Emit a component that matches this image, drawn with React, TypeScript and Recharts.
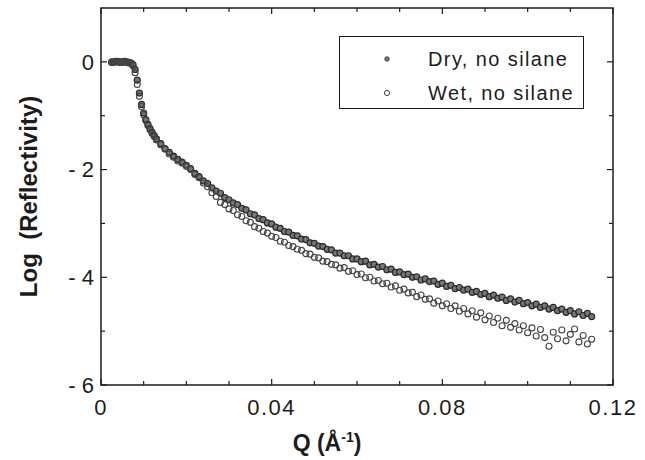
import React from 'react';
import { ScatterChart, Scatter, XAxis, YAxis, ReferenceArea, Legend, Label } from 'recharts';

const qValues = [
  0.0025, 0.003, 0.0035, 0.004, 0.0045, 0.005, 0.0055, 0.006, 0.0065, 0.007, 0.0075,
  0.008, 0.0085, 0.009, 0.0095, 0.01, 0.0105, 0.011, 0.0115, 0.012, 0.0125, 0.013,
  0.014, 0.015, 0.016, 0.017, 0.018, 0.019, 0.02, 0.021, 0.022, 0.023, 0.024, 0.025,
  0.026, 0.027, 0.028, 0.029, 0.03, 0.031, 0.032, 0.033, 0.034, 0.035, 0.036, 0.037,
  0.038, 0.039, 0.04, 0.041, 0.042, 0.043, 0.044, 0.045, 0.046, 0.047, 0.048, 0.049,
  0.05, 0.051, 0.052, 0.053, 0.054, 0.055, 0.056, 0.057, 0.058, 0.059, 0.06, 0.061,
  0.062, 0.063, 0.064, 0.065, 0.066, 0.067, 0.068, 0.069, 0.07, 0.071, 0.072, 0.073,
  0.074, 0.075, 0.076, 0.077, 0.078, 0.079, 0.08, 0.081, 0.082, 0.083, 0.084, 0.085,
  0.086, 0.087, 0.088, 0.089, 0.09, 0.091, 0.092, 0.093, 0.094, 0.095, 0.096, 0.097,
  0.098, 0.099, 0.1, 0.101, 0.102, 0.103, 0.104, 0.105, 0.106, 0.107, 0.108, 0.109,
  0.11, 0.111, 0.112, 0.113, 0.114, 0.115,
];

const dryValues = [
  -0.01, 0.0, 0.01, 0.0, -0.01, 0.0, 0.01, 0.0, -0.01, -0.02, -0.05,
  -0.14, -0.34, -0.58, -0.79, -0.95, -1.07, -1.16, -1.24, -1.31, -1.37, -1.43,
  -1.52, -1.61, -1.68, -1.75, -1.81, -1.86, -1.92, -1.98, -2.07, -2.13, -2.21, -2.26,
  -2.34, -2.4, -2.44, -2.52, -2.56, -2.62, -2.65, -2.72, -2.75, -2.82, -2.84, -2.91,
  -2.93, -2.99, -3.01, -3.07, -3.09, -3.15, -3.16, -3.22, -3.23, -3.29, -3.3, -3.36,
  -3.37, -3.42, -3.43, -3.48, -3.49, -3.55, -3.55, -3.6, -3.6, -3.66, -3.66, -3.71,
  -3.7, -3.77, -3.76, -3.81, -3.8, -3.86, -3.85, -3.91, -3.9, -3.95, -3.94, -4.0,
  -3.99, -4.05, -4.03, -4.08, -4.07, -4.13, -4.11, -4.17, -4.15, -4.21, -4.19, -4.24,
  -4.22, -4.28, -4.26, -4.32, -4.3, -4.36, -4.33, -4.39, -4.37, -4.43, -4.4, -4.46,
  -4.43, -4.49, -4.47, -4.53, -4.5, -4.56, -4.53, -4.59, -4.56, -4.62, -4.59, -4.65,
  -4.62, -4.68, -4.64, -4.71, -4.67, -4.73,
];

const wetValues = [
  0.0, -0.01, 0.0, 0.01, 0.0, -0.01, 0.0, -0.01, -0.02, -0.03, -0.07,
  -0.2, -0.42, -0.64, -0.83, -0.98, -1.09, -1.18, -1.26, -1.33, -1.39, -1.45,
  -1.54, -1.62, -1.71, -1.77, -1.84, -1.88, -1.94, -2.0, -2.09, -2.15, -2.25, -2.32,
  -2.43, -2.5, -2.61, -2.65, -2.73, -2.76, -2.84, -2.87, -2.95, -2.98, -3.06, -3.09,
  -3.15, -3.18, -3.24, -3.26, -3.33, -3.35, -3.41, -3.43, -3.48, -3.5, -3.56, -3.57,
  -3.63, -3.64, -3.7, -3.71, -3.76, -3.77, -3.83, -3.82, -3.89, -3.88, -3.95, -3.94,
  -4.01, -4.0, -4.07, -4.06, -4.12, -4.11, -4.18, -4.16, -4.24, -4.22, -4.29, -4.28,
  -4.36, -4.33, -4.41, -4.4, -4.48, -4.44, -4.53, -4.49, -4.58, -4.53, -4.63, -4.58,
  -4.68, -4.62, -4.74, -4.66, -4.79, -4.72, -4.84, -4.76, -4.9, -4.8, -4.93, -4.86,
  -4.98, -4.9, -5.03, -4.94, -5.09, -4.97, -5.12, -5.28, -5.02, -5.14, -4.98, -5.18,
  -5.06, -4.96, -5.2, -5.08, -5.24, -5.15,
];

const xTicks = [0, 0.01, 0.02, 0.03, 0.04, 0.05, 0.06, 0.07, 0.08, 0.09, 0.1, 0.11, 0.12];
const xLabelTicks = [0, 0.04, 0.08, 0.12];
const xTickLabels = ['0', '0.04', '0.08', '0.12'];
const yTicks = [-6, -5, -4, -3, -2, -1, 0];
const yLabelTicks = [-6, -4, -2, 0];
const yTickLabels = ['- 6', '- 4', '- 2', '0'];

const seriesNames = ['Dry, no silane', 'Wet, no silane'];

const dryData = qValues.map((q, i) => ({ q, r: dryValues[i] }));
const wetData = qValues.map((q, i) => ({ q, r: wetValues[i] }));

const W = 645;
const H = 460;
const M = { top: 8, right: 32, bottom: 0, left: 38 };
const Y_AXIS_W = 63;
const X_AXIS_H = 75;
const PLOT_TOP = M.top;
const PLOT_BOTTOM = H - M.bottom - X_AXIS_H;
const PLOT_LEFT = M.left + Y_AXIS_W;
const PLOT_RIGHT = W - M.right;
const FONT = '"Liberation Sans", Arial, Helvetica, sans-serif';
const INK = '#1c1c1c';

const near = (a: number, b: number) => Math.abs(a - b) < 1e-9;

const XTick = (props: any) => {
  const { x, y, payload } = props;
  const idx = xLabelTicks.findIndex((t) => near(t, payload.value));
  const major = idx >= 0;
  const len = major ? 6 : 4;
  return (
    <g>
      <line x1={x} x2={x} y1={PLOT_BOTTOM} y2={PLOT_BOTTOM - len} stroke={INK} strokeWidth={1.2} />
      <line x1={x} x2={x} y1={PLOT_TOP} y2={PLOT_TOP + len} stroke={INK} strokeWidth={1.2} />
      {major && (
        <text x={x} y={y} dy="0.71em" textAnchor="middle" fontFamily={FONT} fontSize={22} fill={INK} letterSpacing={1.5}>
          {xTickLabels[idx]}
        </text>
      )}
    </g>
  );
};

const YTick = (props: any) => {
  const { x, y, payload } = props;
  const idx = yLabelTicks.findIndex((t) => near(t, payload.value));
  const major = idx >= 0;
  const len = major ? 6 : 4;
  return (
    <g>
      <line x1={PLOT_LEFT} x2={PLOT_LEFT + len} y1={y} y2={y} stroke={INK} strokeWidth={1.2} />
      <line x1={PLOT_RIGHT} x2={PLOT_RIGHT - len} y1={y} y2={y} stroke={INK} strokeWidth={1.2} />
      {major && (
        <text x={x} y={y} dy="0.355em" textAnchor="end" fontFamily={FONT} fontSize={22} fill={INK} style={{ whiteSpace: 'pre' }}>
          {yTickLabels[idx]}
        </text>
      )}
    </g>
  );
};

const DryDot = (p: any) => (
  <circle cx={p.cx} cy={p.cy} r={3} fill="#777" stroke="#2a2a2a" strokeWidth={1.2} />
);
const WetDot = (p: any) => (
  <circle cx={p.cx} cy={p.cy} r={3} fill="none" stroke="#444" strokeWidth={1.1} />
);

const LegendBox = () => (
  <div
    style={{
      position: 'relative',
      boxSizing: 'border-box',
      width: 245,
      height: 73,
      border: `1.5px solid ${INK}`,
      background: '#fff',
      fontFamily: FONT,
      fontSize: 20,
      color: INK,
    }}
  >
    {seriesNames.map((name, i) => (
      <div key={name} style={{ position: 'absolute', left: 0, top: i === 0 ? 6 : 40, height: 32, width: '100%' }}>
        <svg width={12} height={12} style={{ position: 'absolute', left: 41, top: 10 }}>
          {i === 0 ? (
            <circle cx={6} cy={6} r={2.2} fill="#777" stroke="#444" strokeWidth={1} />
          ) : (
            <circle cx={6} cy={6} r={2.6} fill="none" stroke="#444" strokeWidth={1} />
          )}
        </svg>
        <span style={{ position: 'absolute', left: 88, top: 4, letterSpacing: 1.4, whiteSpace: 'pre', lineHeight: '24px' }}>{name}</span>
      </div>
    ))}
  </div>
);

const XTitle = (props: any) => {
  const vb = props.viewBox || {};
  const cx = vb.x + vb.width / 2 - 30;
  return (
    <text x={cx} y={451} textAnchor="middle" fontFamily={FONT} fontSize={23} fontWeight="bold" fill={INK}>
      <tspan>Q (Å</tspan>
      <tspan dy={-9} fontSize={14}>-1</tspan>
      <tspan dy={9}>)</tspan>
    </text>
  );
};

const YTitle = (props: any) => {
  const vb = props.viewBox || {};
  const cy = vb.y + vb.height / 2;
  const cx = 28;
  return (
    <text
      x={cx}
      y={cy}
      transform={`rotate(-90, ${cx}, ${cy})`}
      textAnchor="middle"
      dominantBaseline="central"
      fontFamily={FONT}
      fontSize={24}
      fontWeight="bold"
      fill={INK}
      style={{ whiteSpace: 'pre' }}
    >
      Log  (Reflectivity)
    </text>
  );
};

export default function App() {
  return (
    <div style={{ position: 'absolute', left: 0, top: 0, width: W, height: H, background: '#fff' }}>
      <ScatterChart width={W} height={H} margin={M}>
        <XAxis
          type="number"
          dataKey="q"
          domain={[0, 0.12]}
          ticks={xTicks}
          interval={0}
          height={X_AXIS_H}
          tickSize={0}
          tickMargin={14}
          axisLine={false}
          tickLine={false}
          tick={<XTick />}
          allowDataOverflow
        >
          <Label content={<XTitle />} />
        </XAxis>
        <YAxis
          type="number"
          dataKey="r"
          domain={[-6, 1]}
          ticks={yTicks}
          interval={0}
          width={Y_AXIS_W}
          tickSize={0}
          tickMargin={7}
          axisLine={false}
          tickLine={false}
          tick={<YTick />}
          allowDataOverflow
        >
          <Label content={<YTitle />} />
        </YAxis>
        <ReferenceArea x1={0} x2={0.12} y1={-6} y2={1} fill="none" stroke={INK} strokeWidth={1.5} ifOverflow="visible" />
        <Scatter name={seriesNames[0]} data={dryData} shape={<DryDot />} isAnimationActive={false} />
        <Scatter name={seriesNames[1]} data={wetData} shape={<WetDot />} isAnimationActive={false} />
        <Legend
          layout="vertical"
          align="center"
          verticalAlign="middle"
          content={<LegendBox />}
          wrapperStyle={{ top: 36, left: 339, width: 245, height: 73, margin: 0 }}
        />
      </ScatterChart>
    </div>
  );
}
